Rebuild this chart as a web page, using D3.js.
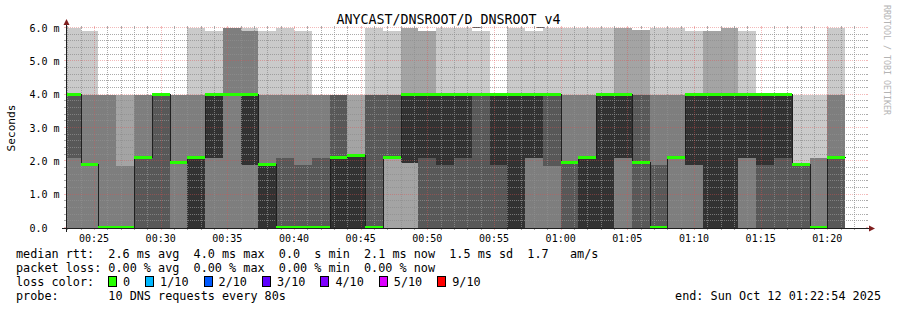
<!DOCTYPE html>
<html>
<head>
<meta charset="utf-8">
<script src="https://cdn.jsdelivr.net/npm/d3@7"></script>
<style>
  body { margin: 0; background: #fff; }
  svg text { font-family: "DejaVu Sans Mono", monospace; white-space: pre; }
</style>
</head>
<body>
<svg id="chart"></svg>
<script>
let width = 897;
let height = 310;

// plot box (rrdtool canvas)
let plotLeft = 66, plotRight = 866, plotBottom = 228, plotTop = 28;

const graphStart = new Date(2025, 9, 12, 0, 22, 54);
const graphEnd = new Date(2025, 9, 12, 1, 22, 54);
const firstRound = new Date(2025, 9, 12, 0, 22, 40);
const stepSeconds = 80;

// sorted rtt of the 10 DNS requests in each 80s round, ms
const ping1 = [0,0,0,0,0,0,0,0,0,0,0,0,0,0,0,0,0,0,0,0,0,0,0,0,0,0,0,0,0,0,0,0,0,0,0,0,0,0,0,0,0,0,0,0];
const ping2 = [0,0,0,0,0,0,0,0,0,0,0,0,0,0,0,0,0,0,0,0,0,0,0,0,0,0,0,0,0,0,0,0,0,0,0,0,0,0,0,0,0,0,0,0];
const ping3 = [0,0,0,0,0,0,0,0,0,0,0,0,0,0,0,0,0,0,2.1,1.95,0,0,0,0,0,0,0,0,0,0,0,0,0,0,0,0,0,0,0,0,0,0,0,0];
const ping4 = [2.1,1.9,0,0,0,0,1.95,0,2.1,4.0,1.9,0,0,0,0,0,0,0,2.1,1.95,0,0,0,0,0,0,2.1,1.85,0,0,0,2.1,0,0,2.1,1.9,0,0,2.1,0,0,0,0,0];
const ping5 = [4.0,1.9,0,0,2.1,4.0,1.95,0,2.1,4.0,1.9,0,0,0,0,0,0,0,2.1,1.95,2.1,1.9,2.1,4.0,1.9,0,2.1,4.0,1.95,0,0,2.1,1.95,0,2.1,1.9,0,0,2.1,1.9,2.1,1.9,0,2.1];
const ping6 = [4.0,1.9,0,0,2.1,4.0,1.95,2.1,4.0,4.0,4.0,1.9,0,0,0,2.1,2.15,0,2.1,4.0,4.0,4.0,4.0,4.0,4.0,4.0,4.0,4.0,1.95,2.1,4.0,4.0,1.95,0,2.1,4.0,4.0,4.0,4.0,4.0,4.0,1.9,0,2.1];
const ping7 = [4.0,1.9,0,0,2.1,4.0,1.95,2.1,4.0,4.0,4.0,1.9,2.1,1.9,2.1,4.0,2.15,4.0,4.0,4.0,4.0,4.0,4.0,4.0,4.0,4.0,4.0,4.0,1.95,2.1,4.0,4.0,4.0,1.9,2.1,4.0,4.0,4.0,4.0,4.0,4.0,1.9,0,2.1];
const ping8 = [4.0,4.0,4.0,1.85,4.0,4.0,4.0,4.0,4.0,6.0,5.9,4.0,4.0,4.0,4.0,4.0,2.15,4.0,4.0,4.0,4.0,4.0,4.0,4.0,4.0,4.0,4.0,4.0,4.0,4.0,4.0,4.0,4.0,4.0,4.0,4.0,4.0,4.0,4.0,4.0,4.0,1.9,2.1,4.0];
const ping9 = [4.0,4.0,4.0,4.0,4.0,4.0,4.0,4.0,4.0,6.0,5.9,4.0,4.0,4.0,4.0,4.0,4.0,4.0,4.0,6.0,5.9,4.0,4.0,4.0,4.0,4.0,4.0,4.0,4.0,4.0,4.0,6.0,5.95,4.0,4.0,4.0,5.9,6.0,4.0,4.0,4.0,1.9,2.1,4.0];
const ping10 = [6.0,5.9,4.0,4.0,4.0,4.0,4.0,6.0,5.9,6.0,6.0,5.9,6.0,5.9,4.0,4.0,4.0,6.0,5.9,6.0,5.9,6.0,6.0,5.9,4.0,6.0,5.9,6.0,6.0,6.0,6.0,6.0,5.95,6.0,6.0,5.9,5.9,6.0,5.9,4.0,4.0,4.0,4.0,6.0];
const median = [4.0,1.9,0,0,2.1,4.0,1.95,2.1,4.0,4.0,4.0,1.9,0,0,0,2.1,2.15,0,2.1,4.0,4.0,4.0,4.0,4.0,4.0,4.0,4.0,4.0,1.95,2.1,4.0,4.0,1.95,0,2.1,4.0,4.0,4.0,4.0,4.0,4.0,1.9,0,2.1];

const smokeColors = ["#cacaca", "#a4a4a4", "#7e7e7e", "#585858", "#323232"];
const yTicks = [0, 1, 2, 3, 4, 5, 6];

const legendLines = [
  "median rtt:  2.6 ms avg  4.0 ms max  0.0  s min  2.1 ms now  1.5 ms sd  1.7   am/s",
  "packet loss: 0.00 % avg  0.00 % max  0.00 % min  0.00 % now",
  "loss color:",
  "probe:       10 DNS requests every 80s",
];
const lossLabels = ["0", "1/10", "2/10", "3/10", "4/10", "5/10", "9/10"];
const lossColors = ["#26ff00", "#00b8ff", "#0059ff", "#5e00ff", "#7e00ff", "#dd00ff", "#ff0000"];

const pings = [ping1, ping2, ping3, ping4, ping5, ping6, ping7, ping8, ping9, ping10];

let svg = d3.select("#chart").attr("width", width).attr("height", height);

let xScale = d3.scaleTime().domain([graphStart, graphEnd]).range([plotLeft, plotRight]);
let yScale = d3.scaleLinear().domain([0, 6]).range([plotBottom, plotTop]);

const rounds = median.map((m, i) => ({
  start: new Date(+firstRound + i * stepSeconds * 1000),
  end: new Date(+firstRound + (i + 1) * stepSeconds * 1000),
  p: pings.map((arr) => arr[i]),
  median: m,
}));

svg.append("defs").append("clipPath").attr("id", "plot")
  .append("rect")
  .attr("x", plotLeft).attr("y", plotTop - 2)
  .attr("width", plotRight - plotLeft).attr("height", plotBottom - plotTop + 2);

const px = (d) => Math.round(xScale(d));

// smoke: band k spans ping(k+1) .. ping(10-k), inner bands on top
const smoke = svg.append("g").attr("clip-path", "url(#plot)").attr("shape-rendering", "crispEdges");
smokeColors.forEach((col, k) => {
  smoke.selectAll(null)
    .data(rounds)
    .enter()
    .append("rect")
    .attr("x", (d) => px(d.start))
    .attr("width", (d) => px(d.end) - px(d.start))
    .attr("y", (d) => Math.round(yScale(d.p[9 - k])))
    .attr("height", (d) => Math.round(yScale(d.p[k])) - Math.round(yScale(d.p[9 - k])))
    .attr("fill", col);
});

// grid
const grid = svg.append("g").attr("shape-rendering", "crispEdges");
const minorCol = "rgba(143,143,143,0.75)";
const majorCol = "rgba(222,79,79,0.4)";

d3.range(0, 6.001, 0.2).forEach((v) => {
  const major = Math.abs(v - Math.round(v)) < 1e-6;
  const y = Math.round(yScale(v)) - 0.5;
  const c = major ? majorCol : minorCol;
  if (v > 0) {
    grid.append("line").attr("x1", plotLeft).attr("x2", plotRight).attr("y1", y).attr("y2", y)
      .attr("stroke", c).attr("stroke-dasharray", "1,1");
  }
  grid.append("line").attr("x1", plotLeft - 2).attr("x2", plotLeft).attr("y1", y).attr("y2", y).attr("stroke", c);
  grid.append("line").attr("x1", plotRight).attr("x2", plotRight + 2).attr("y1", y).attr("y2", y).attr("stroke", c);
});

xScale.ticks(d3.timeMinute.every(1)).forEach((t) => {
  const major = t.getMinutes() % 5 === 0;
  const x = px(t) + 0.5;
  const c = major ? majorCol : minorCol;
  grid.append("line").attr("x1", x).attr("x2", x).attr("y1", plotTop).attr("y2", plotBottom)
    .attr("stroke", c).attr("stroke-dasharray", "1,1");
  grid.append("line").attr("x1", x).attr("x2", x).attr("y1", plotTop - 2).attr("y2", plotTop).attr("stroke", c);
  grid.append("line").attr("x1", x).attr("x2", x).attr("y1", plotBottom).attr("y2", plotBottom + 2).attr("stroke", c);
});

// median line
const last = rounds[rounds.length - 1];
const medianPts = rounds.map((d) => [d.start, d.median]).concat([[last.end, last.median]]);
svg.append("path")
  .datum(medianPts)
  .attr("clip-path", "url(#plot)")
  .attr("fill", "none")
  .attr("stroke", "#202020")
  .attr("stroke-width", 1)
  .attr("shape-rendering", "crispEdges")
  .attr("d", d3.line()
    .x((d) => px(d[0]) + 0.5)
    .y((d) => Math.round(yScale(d[1])) - 0.5)
    .curve(d3.curveStepAfter));

// loss colour (all rounds 0 loss)
svg.append("g").attr("clip-path", "url(#plot)").attr("shape-rendering", "crispEdges")
  .selectAll("rect")
  .data(rounds)
  .enter()
  .append("rect")
  .attr("x", (d) => px(d.start))
  .attr("width", (d) => px(d.end) - px(d.start))
  .attr("y", (d) => Math.round(yScale(d.median)) - 2)
  .attr("height", 3)
  .attr("fill", lossColors[0]);

// axes
const axis = svg.append("g").attr("shape-rendering", "crispEdges");
axis.append("line").attr("x1", plotLeft - 4).attr("x2", plotRight + 4)
  .attr("y1", plotBottom + 0.5).attr("y2", plotBottom + 0.5).attr("stroke", "#1f1f1f");
axis.append("line").attr("x1", plotLeft + 0.5).attr("x2", plotLeft + 0.5)
  .attr("y1", plotBottom + 4).attr("y2", plotTop - 4).attr("stroke", "#1f1f1f");
svg.append("path")
  .attr("d", `M${plotRight + 3},${plotBottom - 2.5}L${plotRight + 3},${plotBottom + 3.5}L${plotRight + 9},${plotBottom + 0.5}Z`)
  .attr("fill", "#801f1f");
svg.append("path")
  .attr("d", `M${plotLeft - 2.5},${plotTop - 3}L${plotLeft + 3.5},${plotTop - 3}L${plotLeft + 0.5},${plotTop - 9}Z`)
  .attr("fill", "#801f1f");

// tick labels
svg.append("g").selectAll("text")
  .data(yTicks)
  .enter()
  .append("text")
  .attr("x", 29.5)
  .attr("y", (d) => yScale(d) + 3.5)
  .attr("font-size", "10px")
  .text((d) => (d === 0 ? "0.0" : d.toFixed(1) + " m"));

svg.append("g").selectAll("text")
  .data(xScale.ticks(d3.timeMinute.every(5)))
  .enter()
  .append("text")
  .attr("x", (d) => xScale(d))
  .attr("y", 242)
  .attr("text-anchor", "middle")
  .attr("font-size", "10px")
  .text(d3.timeFormat("%H:%M"));

// title, unit, watermark
svg.append("text")
  .attr("x", 448.5).attr("y", 24)
  .attr("text-anchor", "middle")
  .attr("font-size", "13.3px")
  .text("ANYCAST/DNSROOT/D_DNSROOT_v4");

svg.append("text")
  .attr("transform", "translate(15,128) rotate(-90)")
  .attr("text-anchor", "middle")
  .attr("font-size", "11.2px")
  .text("Seconds");

svg.append("text")
  .attr("transform", "translate(884,60) rotate(90)")
  .attr("text-anchor", "middle")
  .attr("font-size", "8.3px")
  .attr("fill", "#b4b4b4")
  .text("RRDTOOL / TOBI OETIKER");

// legend
const legend = svg.append("g").attr("font-size", "11.8px");
legendLines.forEach((line, i) => {
  legend.append("text").attr("x", 16).attr("y", 258 + i * 14).text(line);
});

let lx = 108;
lossLabels.forEach((label, i) => {
  legend.append("rect")
    .attr("x", lx + 0.5).attr("y", 276.5)
    .attr("width", 8).attr("height", 10)
    .attr("fill", lossColors[i])
    .attr("stroke", "#000")
    .attr("shape-rendering", "crispEdges");
  const t = legend.append("text").attr("x", lx + 15).attr("y", 286).text(label);
  lx = lx + 15 + t.node().getComputedTextLength() + 15;
});

legend.append("text")
  .attr("x", 881).attr("y", 300)
  .attr("text-anchor", "end")
  .text("end: Sun Oct 12 01:22:54 2025");
</script>
</body>
</html>
